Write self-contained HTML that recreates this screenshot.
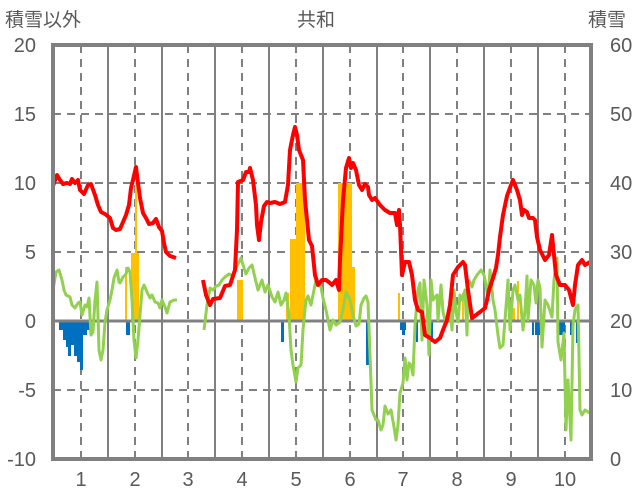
<!DOCTYPE html>
<html><head><meta charset="utf-8"><style>
html,body{margin:0;padding:0;background:#fff;}
svg{display:block;}
text{font-family:"Liberation Sans","Noto Sans CJK JP",sans-serif;fill:#595959;}
</style></head><body>
<svg width="636" height="501" viewBox="0 0 636 501" xmlns="http://www.w3.org/2000/svg">
<rect width="636" height="501" fill="#fff"/>
<!-- grid -->
<g stroke="#808080" stroke-width="2" stroke-dasharray="8,6">
<line x1="53" y1="114" x2="591" y2="114"/>
<line x1="53" y1="183" x2="591" y2="183"/>
<line x1="53" y1="252" x2="591" y2="252"/>
<line x1="53" y1="390" x2="591" y2="390"/>
<line x1="81" y1="45" x2="81" y2="459"/>
<line x1="135" y1="45" x2="135" y2="459"/>
<line x1="188" y1="45" x2="188" y2="459"/>
<line x1="242" y1="45" x2="242" y2="459"/>
<line x1="296" y1="45" x2="296" y2="459"/>
<line x1="350" y1="45" x2="350" y2="459"/>
<line x1="403" y1="45" x2="403" y2="459"/>
<line x1="457" y1="45" x2="457" y2="459"/>
<line x1="511" y1="45" x2="511" y2="459"/>
<line x1="565" y1="45" x2="565" y2="459"/>
</g>
<g stroke="#808080" stroke-width="2">
<line x1="108" y1="45" x2="108" y2="459"/>
<line x1="162" y1="45" x2="162" y2="459"/>
<line x1="215" y1="45" x2="215" y2="459"/>
<line x1="269" y1="45" x2="269" y2="459"/>
<line x1="323" y1="45" x2="323" y2="459"/>
<line x1="377" y1="45" x2="377" y2="459"/>
<line x1="430" y1="45" x2="430" y2="459"/>
<line x1="484" y1="45" x2="484" y2="459"/>
<line x1="538" y1="45" x2="538" y2="459"/>
</g>
<!-- orange snow bars -->
<g fill="#FFC000">
<rect x="125" y="267" width="2" height="54"/>
<rect x="131" y="253" width="8" height="68"/>
<rect x="135" y="183" width="2" height="138"/>
<rect x="237" y="280" width="6" height="41"/>
<rect x="286" y="293" width="3" height="28"/>
<rect x="290" y="239" width="6" height="82"/>
<rect x="296" y="183" width="9" height="138"/>
<rect x="338" y="183" width="14" height="138"/>
<rect x="352" y="267" width="3" height="54"/>
<rect x="398" y="293" width="2" height="28"/>
<rect x="462" y="293" width="2" height="28"/>
<rect x="508" y="308" width="7" height="13"/>
<rect x="517" y="281" width="2" height="40"/>
</g>
<!-- blue bars -->
<g fill="#0070C0">
<rect x="59" y="321" width="4" height="9"/>
<rect x="63" y="321" width="3" height="19"/>
<rect x="66" y="321" width="2" height="26"/>
<rect x="68" y="321" width="3" height="35"/>
<rect x="71" y="321" width="3" height="24"/>
<rect x="74" y="321" width="3" height="35"/>
<rect x="77" y="321" width="3" height="41"/>
<rect x="80" y="321" width="3" height="49"/>
<rect x="83" y="321" width="4" height="14"/>
<rect x="87" y="321" width="3" height="9"/>
<rect x="126" y="321" width="4" height="14"/>
<rect x="281" y="321" width="3" height="21"/>
<rect x="366" y="321" width="3" height="44"/>
<rect x="400" y="321" width="6" height="9"/>
<rect x="402" y="321" width="3" height="14"/>
<rect x="416" y="321" width="2" height="21"/>
<rect x="431" y="321" width="2" height="21"/>
<rect x="532" y="321" width="2" height="14"/>
<rect x="535" y="321" width="5" height="14"/>
<rect x="558" y="321" width="7" height="14"/>
<rect x="563" y="321" width="2" height="42"/>
<rect x="570" y="321" width="3" height="14"/>
<rect x="576" y="321" width="2" height="22"/>
</g>
<!-- zero line -->
<line x1="53" y1="321" x2="591" y2="321" stroke="#808080" stroke-width="3"/>
<!-- green -->
<g fill="none" stroke="#92D050" stroke-width="3" stroke-linejoin="round">
<polyline points="53,290 56,272 59,270 62,280 64,290 66,295 70,297 72,305 75,308 78,303 80,302 82,315 85,305 87,307 89,298 91,335 93,332 95,300 97,282 99,350 101,360 103,350 105,322 107,310 110,300 112,290 114,278 117,270 119,282 120,283 123,277 126,274 128,268 130,272 132,300 134,340 136,358 138,340 140,315 142,290 144,285 147,292 150,298 152,295 155,302 158,303 160,308 162,300 165,307 167,313 170,302 174,300 177,300"/>
<polyline points="204,330 207,305 210,288 213,290 216,286 219,285 222,280 225,277 229,274 233,276 236,268 239,262 241,258 244,268 246,274 249,268 252,265 256,282 258,290 262,280 265,292 268,285 272,297 275,302 278,292 281,305 284,300 286,293 289,315 291,350 293,365 296,382 298,368 301,365 303,330 306,300 308,296 311,305 314,290 316,280 319,285 320,282 323,298 326,310 330,330 333,320 336,325 340,322 343,310 346,292 350,300 353,315 356,326 359,324 361,305 364,298 366,296 368,302 370,355 372,410 376,420 378,420 381,430 383,425 385,406 388,414 391,410 394,427 396,440 398,425 400,393 403,383 405,358 407,380 409,363 411,365 413,375 415,325 418,290 420,283 422,340 424,280 427,305 429,355 431,280 433,300 435,297 437,295 438,320 441,285 443,312 446,324 448,320 450,308 452,330 454,290 456,312 458,322 460,295 462,300 465,290 467,335 468,280 470,282 472,287 474,280 477,275 481,270 484,275 486,285 488,300 490,270 493,300 495,310 498,335 500,348 503,345 505,320 508,280 510,330 513,290 515,285 518,300 520,295 523,330 525,310 527,276 528,320 531,280 534,285 536,303 538,280 540,288 542,347 545,300 548,305 552,317 554,280 557,258 558,342 561,360 564,333 566,430 568,380 571,440 573,325 575,310 578,305 580,410 582,415 585,410 590,413"/>
</g>
<!-- red -->
<g fill="none" stroke="#FF0000" stroke-width="4" stroke-linejoin="round">
<polyline points="53,186 57,175 60,180 63,184 67,183 70,184 72,179 75,183 78,180 80,190 84,194 88,185 91,184 95,195 98,205 101,212 105,214 110,218 113,228 116,230 120,229 123,222 126,215 129,205 131,188 133,180 136,167 138,183 140,198 143,213 146,218 149,224 153,223 156,219 159,227 162,231 164,243 166,252 170,256 176,258"/>
<polyline points="203,280 206,295 210,305 213,299 220,298 225,286 230,285 235,270 237,230 238,182 243,180 246,172 249,172 250,168 253,180 256,205 257,225 259,240 261,222 264,206 267,202 270,203 275,202 280,204 285,202 288,185 290,150 293,135 295,127 297,135 299,150 303,160 305,200 309,240 312,246 315,275 318,285 322,280 326,280 330,283 332,285 336,280 339,290 340,260 343,200 346,168 349,158 351,168 353,163 356,170 359,185 362,190 365,184 368,187 369,195 372,200 375,198 380,205 385,210 390,213 395,213 397,225 399,210 400,225 402,275 405,262 409,262 412,275 415,300 418,310 422,312 425,335 430,338 435,342 440,338 443,330 447,320 450,305 453,275 458,267 463,262 465,265 468,290 472,318 476,315 480,312 485,308 487,300 489,290 493,278 496,268 498,255 500,237 503,215 507,196 511,185 513,180 517,190 520,200 522,215 524,210 527,212 529,218 533,218 535,220 537,237 540,250 545,260 549,255 552,235 556,275 560,285 565,285 569,290 573,305 575,285 578,265 582,260 585,265 590,262"/>
</g>
<!-- bottom purple -->
<line x1="53" y1="459" x2="591" y2="459" stroke="#808080" stroke-width="4"/>
<line x1="53" y1="459" x2="176" y2="459" stroke="#7030A0" stroke-width="4"/>
<line x1="202" y1="459" x2="591" y2="459" stroke="#7030A0" stroke-width="4"/>
<!-- frame -->
<rect x="53" y="45" width="538" height="414" fill="none" stroke="#808080" stroke-width="4"/>
<!-- labels -->
<g font-size="20" text-anchor="end">
<text x="36" y="52">20</text>
<text x="36" y="121">15</text>
<text x="36" y="190">10</text>
<text x="36" y="259">5</text>
<text x="36" y="328">0</text>
<text x="36" y="397">-5</text>
<text x="36" y="466">-10</text>
</g>
<g font-size="20" text-anchor="start">
<text x="610" y="52">60</text>
<text x="610" y="121">50</text>
<text x="610" y="190">40</text>
<text x="610" y="259">30</text>
<text x="610" y="328">20</text>
<text x="610" y="397">10</text>
<text x="610" y="466">0</text>
</g>
<g font-size="20" text-anchor="middle">
<text x="81" y="486">1</text>
<text x="135" y="486">2</text>
<text x="188" y="486">3</text>
<text x="242" y="486">4</text>
<text x="296" y="486">5</text>
<text x="350" y="486">6</text>
<text x="403" y="486">7</text>
<text x="457" y="486">8</text>
<text x="511" y="486">9</text>
<text x="565" y="486">10</text>
</g>
<text x="5" y="26" font-size="19">積雪以外</text>
<text x="316" y="26" font-size="19" text-anchor="middle">共和</text>
<text x="588" y="26" font-size="19">積雪</text>
</svg>
</body></html>
